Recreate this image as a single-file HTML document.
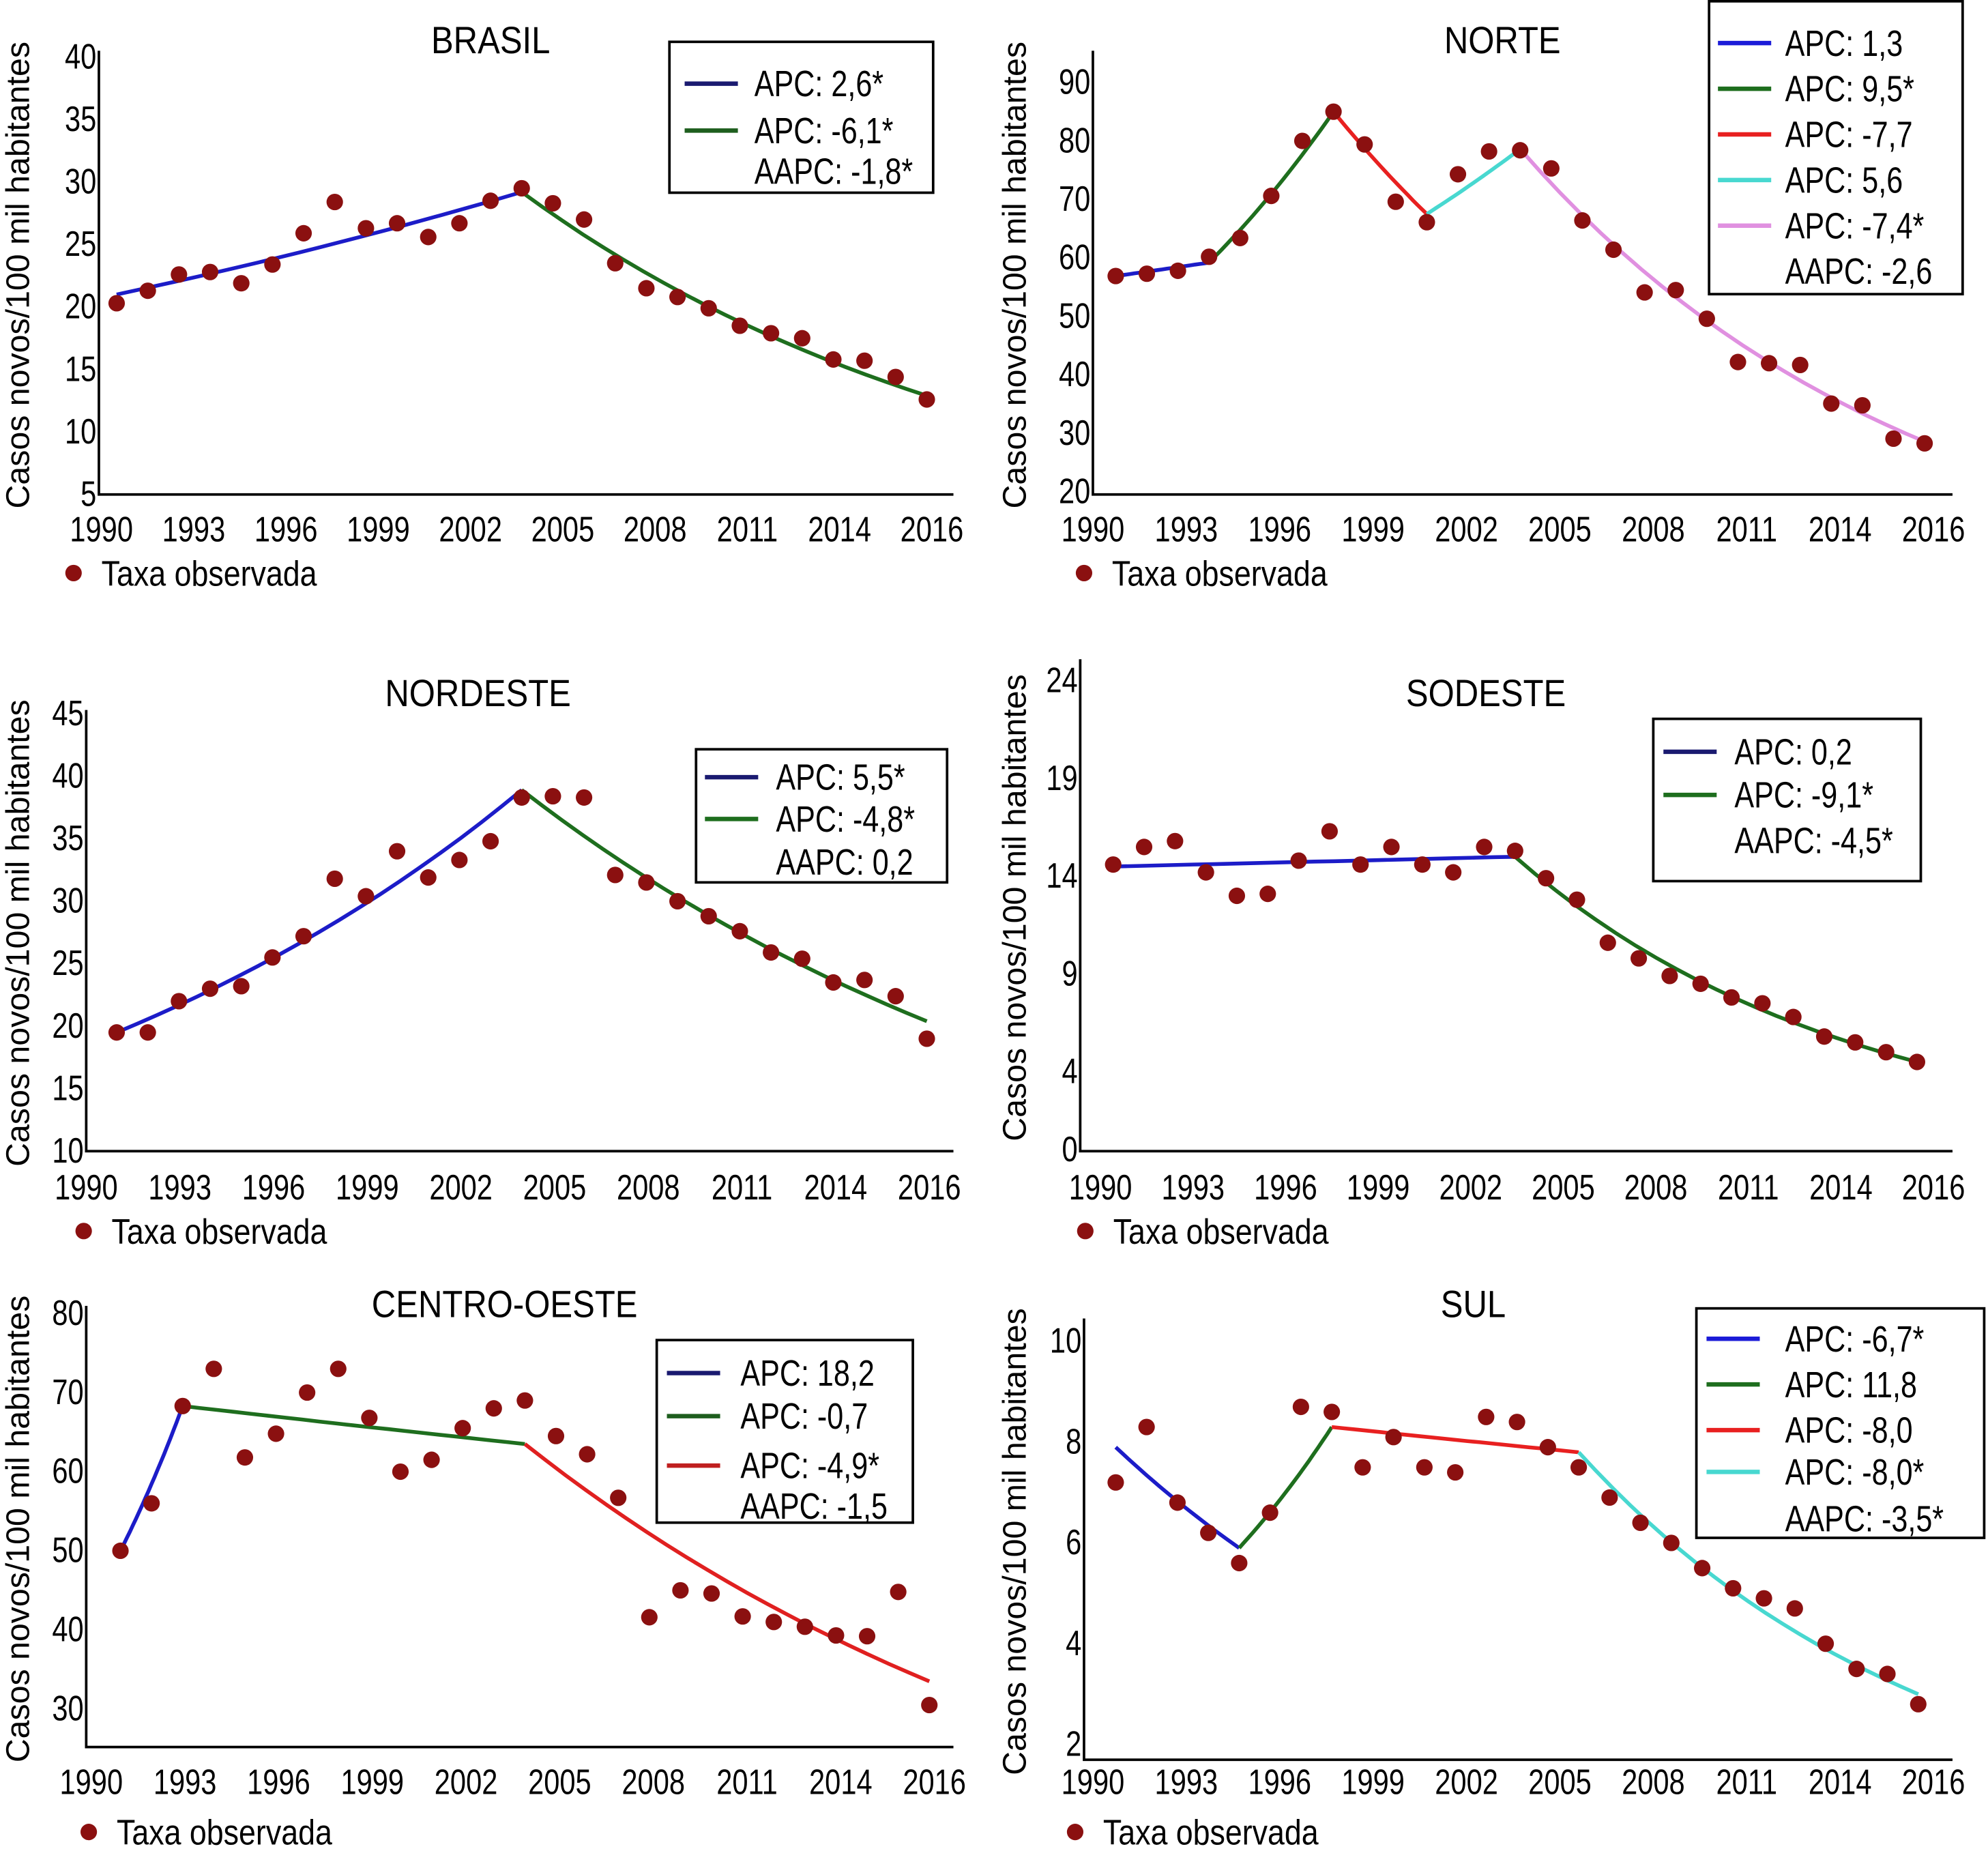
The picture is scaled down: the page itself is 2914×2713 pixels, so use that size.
<!DOCTYPE html>
<html><head><meta charset="utf-8"><style>
html,body{margin:0;padding:0;background:#fff;}
svg{display:block;}
text{font-family:"Liberation Sans",Arial,sans-serif;fill:#000;}
</style></head><body>
<svg id="fig" xmlns="http://www.w3.org/2000/svg" width="2914" height="2713" viewBox="0 0 1568 1460" preserveAspectRatio="none"></svg>
<script>
const years = [1990,1991,1992,1993,1994,1995,1996,1997,1998,1999,2000,2001,2002,2003,2004,2005,2006,2007,2008,2009,2010,2011,2012,2013,2014,2015,2016];
const xTickLabels = ["1990","1993","1996","1999","2002","2005","2008","2011","2014","2016"];

const brasilRates = [20.3,21.3,22.6,22.8,21.9,23.4,25.9,28.4,26.3,26.7,25.6,26.7,28.5,29.5,28.3,27.0,23.5,21.5,20.8,19.9,18.5,17.9,17.5,15.8,15.7,14.4,12.6];
const brasilFitBreaks = [0,13,26];
const brasilFitValues = [21.0,29.2,12.9];
const brasilTicks = [5,10,15,20,25,30,35,40];
const brasilLegend = ["APC: 2,6*","APC: -6,1*","AAPC: -1,8*"];

const norteRates = [56.9,57.3,57.8,60.2,63.4,70.6,80.0,85.0,79.4,69.6,66.1,74.3,78.2,78.4,75.3,66.4,61.4,54.1,54.5,49.6,42.2,42.0,41.7,35.1,34.8,29.1,28.3];
const norteFitBreaks = [0,3,7,10,13,26];
const norteFitValues = [56.9,59.2,85.0,67.5,78.6,28.6];
const norteTicks = [20,30,40,50,60,70,80,90];
const norteLegend = ["APC: 1,3","APC: 9,5*","APC: -7,7","APC: 5,6","APC: -7,4*","AAPC: -2,6"];

const nordesteRates = [19.5,19.5,22.0,23.0,23.2,25.5,27.2,31.8,30.4,34.0,31.9,33.3,34.8,38.3,38.4,38.3,32.1,31.5,30.0,28.8,27.6,25.9,25.4,23.5,23.7,22.4,19.0];
const nordesteFitBreaks = [0,13,26];
const nordesteFitValues = [19.5,38.9,20.4];
const nordesteTicks = [10,15,20,25,30,35,40,45];
const nordesteLegend = ["APC: 5,5*","APC: -4,8*","AAPC: 0,2"];

const sudesteRates = [14.6,15.5,15.8,14.2,13.0,13.1,14.8,16.3,14.6,15.5,14.6,14.2,15.5,15.3,13.9,12.8,10.6,9.8,8.9,8.5,7.8,7.5,6.8,5.8,5.5,5.0,4.5];
const sudesteFitBreaks = [0,13,26];
const sudesteFitValues = [14.5,15.0,4.5];
const sudesteTicks = [0,4,9,14,19,24];
const sudesteLegend = ["APC: 0,2","APC: -9,1*","AAPC: -4,5*"];

const centroRates = [50.0,56.0,68.3,73.0,61.8,64.8,70.0,73.0,66.8,60.0,61.5,65.5,68.0,69.0,64.5,62.2,56.7,41.6,45.0,44.6,41.7,41.0,40.4,39.3,39.2,44.8,30.5];
const centroFitBreaks = [0,2,13,26];
const centroFitValues = [50.0,68.3,63.5,33.5];
const centroTicks = [30,40,50,60,70,80];
const centroLegend = ["APC: 18,2","APC: -0,7","APC: -4,9*","AAPC: -1,5"];

const sulRates = [7.2,8.3,6.8,6.2,5.6,6.6,8.7,8.6,7.5,8.1,7.5,7.4,8.5,8.4,7.9,7.5,6.9,6.4,6.0,5.5,5.1,4.9,4.7,4.0,3.5,3.4,2.8];
const sulFitBreaks = [0,4,7,15,26];
const sulFitValues = [7.9,5.9,8.3,7.8,3.0];
const sulTicks = [2,4,6,8,10];
const sulLegend = ["APC: -6,7*","APC: 11,8","APC: -8,0","APC: -8,0*","AAPC: -3,5*"];

const NS = "http://www.w3.org/2000/svg";
const svg = document.getElementById('fig');
function el(tag, attrs, parent){
  const e = document.createElementNS(NS, tag);
  for (const k in attrs) e.setAttribute(k, attrs[k]);
  (parent||svg).appendChild(e);
  return e;
}
function txt(parent, x, y, s, size, anchor, sx){
  const t = el('text', {transform:`translate(${x},${y}) scale(${sx||0.8},1)`, 'font-size':size, 'text-anchor':anchor||'start'}, parent);
  t.textContent = s;
  return t;
}

const panels = [
 {key:'brasil', title:'BRASIL', titleX:387, titleY:42, ax:78, top:40, bot:390, right:752, v0:5, p0:390, v1:40, p1:45, first:92, last:731, lblL:80, lblR:735, lblY:427, ytitleX:14,
  rates:brasilRates, fb:brasilFitBreaks, fv:brasilFitValues, ticks:brasilTicks, legend:brasilLegend, colors:['#1c1cc8','#1e6e1e'], legColors:['#1a1a70','#1e5e1e'],
  box:[528,33,208,119], legY:[66,103,135], lineX:540, textX:595, taxaY:452, dotX:58},
 {key:'norte', title:'NORTE', titleX:1185, titleY:42, ax:862, top:40, bot:390, right:1540, v0:20, p0:388, v1:90, p1:65, first:880, last:1518, lblL:862, lblR:1525, lblY:427, ytitleX:800,
  rates:norteRates, fb:norteFitBreaks, fv:norteFitValues, ticks:norteTicks, legend:norteLegend, colors:['#1c1cc8','#1e6e1e','#e82020','#48d8d0','#e090e0'], legColors:['#1c1cd8','#1e6e1e','#e82020','#48d8d0','#e090e0'],
  box:[1348,1,200,231], legY:[34,70,106,142,178,214], lineX:1355, textX:1408, taxaY:452, dotX:855},
 {key:'nordeste', title:'NORDESTE', titleX:377, titleY:557, ax:68, top:560, bot:908, right:752, v0:10, p0:908, v1:45, p1:563, first:92, last:731, lblL:68, lblR:733, lblY:946, ytitleX:14,
  rates:nordesteRates, fb:nordesteFitBreaks, fv:nordesteFitValues, ticks:nordesteTicks, legend:nordesteLegend, colors:['#1c1cc8','#1e6e1e'], legColors:['#1a1a70','#1e6e1e'],
  box:[549,591,198,105], legY:[613,646,680], lineX:556, textX:612, taxaY:971, dotX:66},
 {key:'sudeste', title:'SODESTE', titleX:1172, titleY:557, ax:852, top:520, bot:908, right:1540, v0:0, p0:907, v1:24, p1:537, first:878, last:1512, lblL:868, lblR:1525, lblY:946, ytitleX:800,
  rates:sudesteRates, fb:sudesteFitBreaks, fv:sudesteFitValues, ticks:sudesteTicks, legend:sudesteLegend, colors:['#1c1cc8','#1e6e1e'], legColors:['#1a1a70','#1e6e1e'],
  box:[1304,567,211,128], legY:[593,627,663], lineX:1312, textX:1368, taxaY:971, dotX:856},
 {key:'centro-oeste', title:'CENTRO-OESTE', titleX:398, titleY:1039, ax:68, top:1030, bot:1378, right:752, v0:30, p0:1348, v1:80, p1:1036, first:95, last:733, lblL:72, lblR:737, lblY:1415, ytitleX:14,
  rates:centroRates, fb:centroFitBreaks, fv:centroFitValues, ticks:centroTicks, legend:centroLegend, colors:['#1c1cc8','#1e6e1e','#e02020'], legColors:['#1a1a70','#1e5e1e','#c02020'],
  box:[518,1057,202,144], legY:[1083,1117,1156,1188], lineX:526, textX:584, taxaY:1445, dotX:70},
 {key:'sul', title:'SUL', titleX:1162, titleY:1039, ax:855, top:1040, bot:1388, right:1540, v0:2, p0:1376, v1:10, p1:1058, first:880, last:1513, lblL:862, lblR:1525, lblY:1415, ytitleX:800,
  rates:sulRates, fb:sulFitBreaks, fv:sulFitValues, ticks:sulTicks, legend:sulLegend, colors:['#1c1cc8','#1e6e1e','#e82020','#48d8d0'], legColors:['#1c1cd8','#1e6e1e','#e82020','#48d8d0'],
  box:[1338,1032,227,181], legY:[1056,1092,1128,1161,1198], lineX:1346, textX:1408, taxaY:1445, dotX:848}
];

panels.forEach(P => {
  const g = el('g', {});
  
  
  const n = years.length;
  const xs = i => P.first + (P.last - P.first) * i / (n - 1);
  const ys = v => P.p0 + (v - P.v0) * (P.p1 - P.p0) / (P.v1 - P.v0);

  const title = txt(g, P.titleX, P.titleY, P.title, 30, 'middle', 0.88);
  
  

  const axes = el('path', {d:`M${P.ax},${P.top} L${P.ax},${P.bot} L${P.right},${P.bot}`, fill:'none', stroke:'#000', 'stroke-width':2}, g);
  
  

  P.ticks.forEach(v => {
    const t = txt(g, P.ax - 2, ys(v) + 9, String(v), 28, 'end');
    
    
  });
  xTickLabels.forEach((s, i) => {
    const x = P.lblL + (P.lblR - P.lblL) * i / (xTickLabels.length - 1);
    const t = txt(g, x, P.lblY, s, 28, 'middle');
    
    
  });

  const yt = el('text', {transform:`translate(${P.ytitleX + 9},${(P.top + P.bot) / 2 + 2}) rotate(-90)`, 'font-size':26, 'text-anchor':'middle'}, g);
  yt.textContent = 'Casos novos/100 mil habitantes';
  
  

  for (let s = 0; s < P.fb.length - 1; s++) {
    const i0 = P.fb[s], i1 = P.fb[s + 1], v0 = P.fv[s], v1 = P.fv[s + 1];
    let d = '';
    for (let k = 0; k <= 20; k++) {
      const t = k / 20;
      const v = v0 * Math.pow(v1 / v0, t);
      const xi = i0 + (i1 - i0) * t;
      d += (k ? 'L' : 'M') + xs(xi).toFixed(1) + ',' + ys(v).toFixed(1);
    }
    const p = el('path', {d, fill:'none', stroke:P.colors[s], 'stroke-width':3}, g);
    
    
  }

  P.rates.forEach((v, i) => {
    const c = el('circle', {cx:xs(i), cy:ys(v), r:6.5, fill:'#8b1010'}, g);
    
    
  });

  const lg = el('g', {}, g);
  
  
  const b = P.box;
  el('rect', {x:b[0], y:b[1], width:b[2], height:b[3], fill:'#fff', stroke:'#000', 'stroke-width':2}, lg);
  P.legend.forEach((s, i) => {
    const y = P.legY[i];
    if (i < P.legColors.length) {
      const ln = el('line', {x1:P.lineX, x2:P.lineX + 42, y1:y, y2:y, stroke:P.legColors[i], 'stroke-width':3.5}, lg);
      
      
    }
    const t = txt(lg, P.textX, y + 10, s, 29);
    
    
  });

  const dot = el('circle', {cx:P.dotX, cy:P.taxaY, r:6.5, fill:'#8b1010'}, g);
  
  
  const tl = txt(g, P.dotX + 22, P.taxaY + 10, 'Taxa observada', 28, 'start', 0.86);
  
  
});
</script>
</body></html>
